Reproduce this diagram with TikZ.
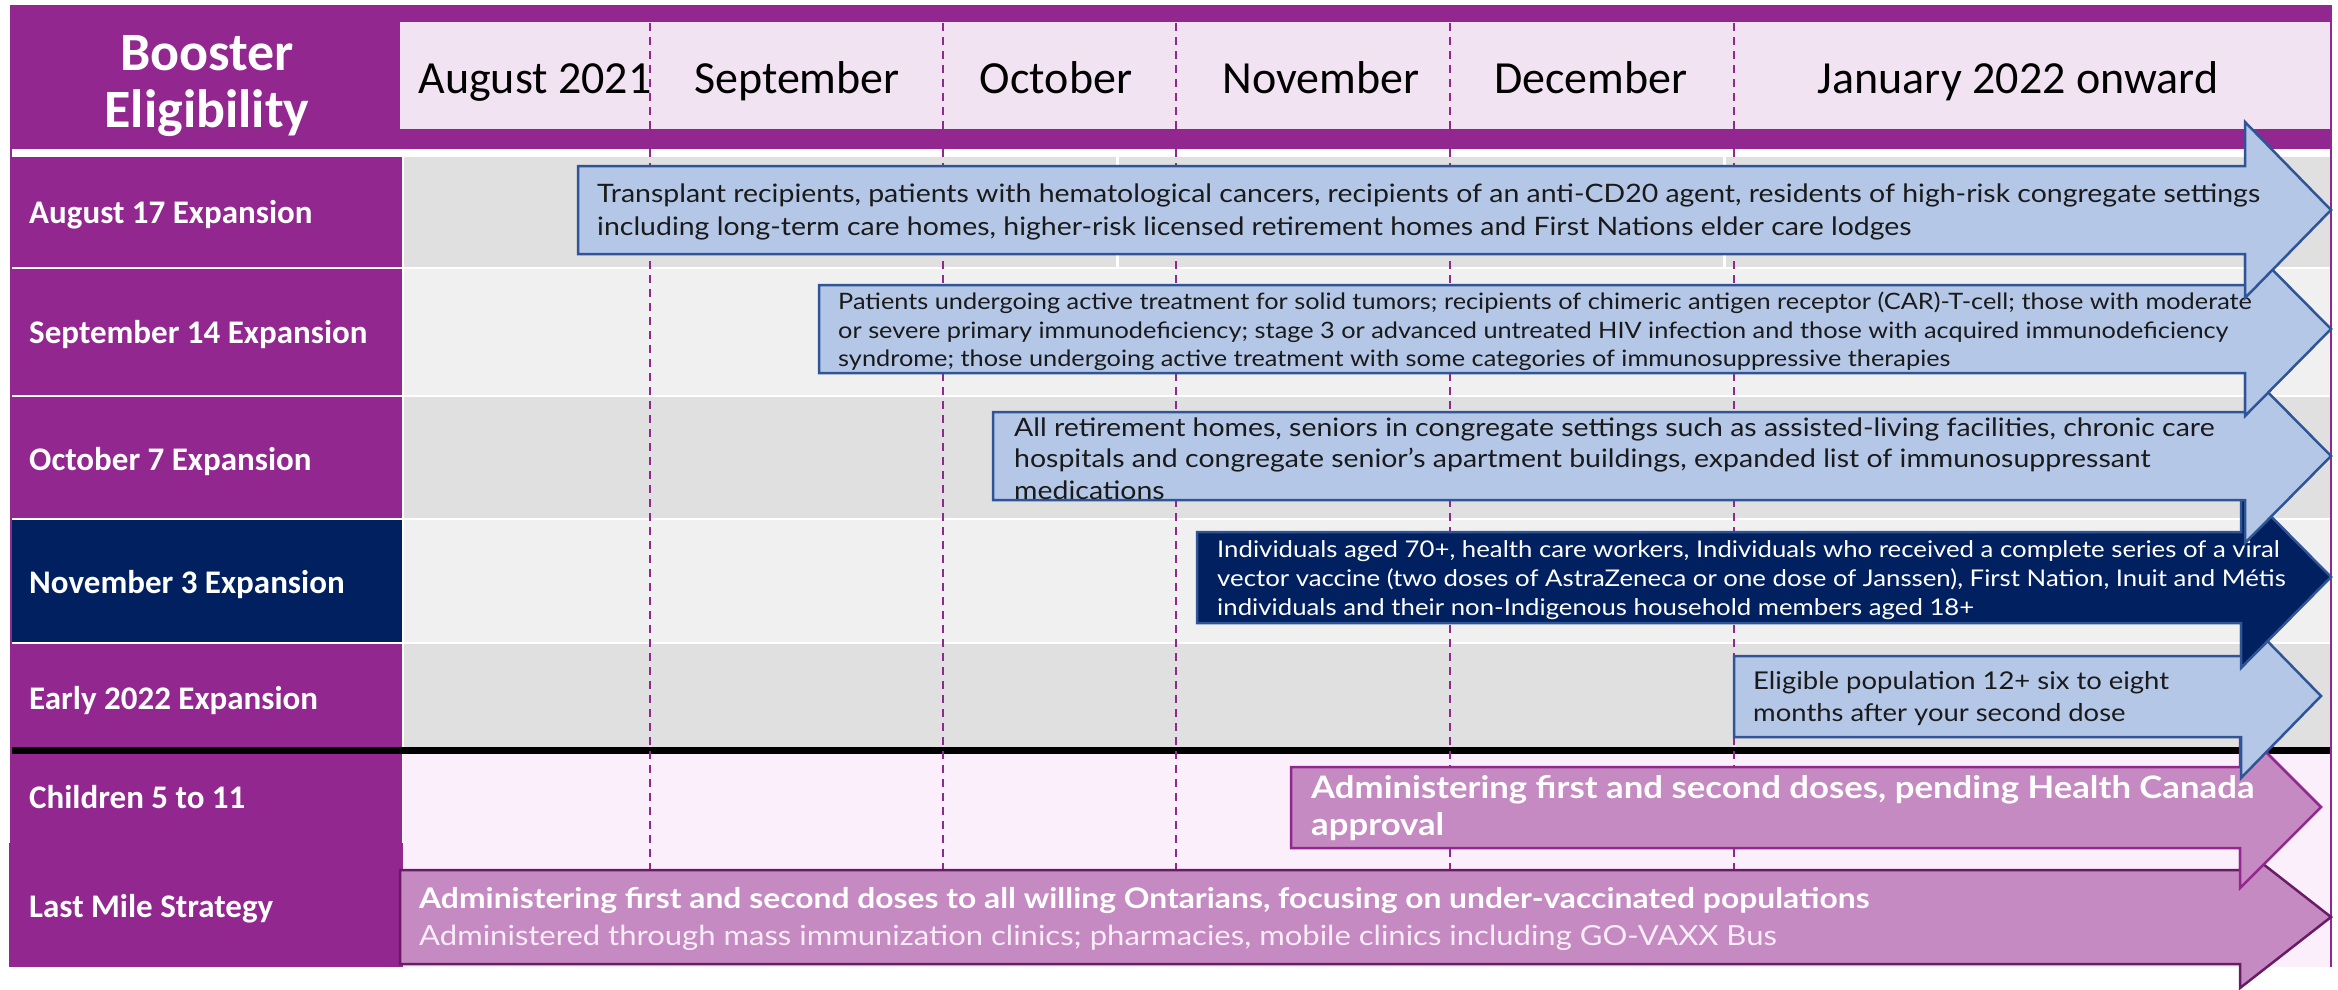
\documentclass[tikz,border=0pt]{standalone}
\usepackage{fontspec}
\setmainfont{Lato}
\newfontfamily\ralw{Lato}[FakeStretch=1.12]
\newfontfamily\calib{Carlito}
\definecolor{purp}{HTML}{92278F}
\definecolor{hdrpink}{HTML}{F2E3F2}
\definecolor{gdark}{HTML}{E0E0E0}
\definecolor{glight}{HTML}{F0F0F0}
\definecolor{navy}{HTML}{002060}
\definecolor{abl}{HTML}{B4C7E7}
\definecolor{abord}{HTML}{2F5597}
\definecolor{apink}{HTML}{C58AC1}
\definecolor{pinkbg}{HTML}{FBEFFB}
\definecolor{dpurp}{HTML}{6A1B66}
\definecolor{atxt}{HTML}{1A1A1A}
\definecolor{lighttxt}{HTML}{F8ECF7}
\newcommand\arr[9]{\path[#1] (#2,#3) -- (#5,#3) -- (#5,#6) -- (#8,#9) -- (#5,#7) -- (#5,#4) -- (#2,#4) -- cycle;}
\tikzset{
  lbl/.style={anchor=base west, inner sep=0pt, text=white, font=\calib\bfseries\fontsize{33}{38}\selectfont},
  month/.style={anchor=base, inner sep=0pt, text=black, font=\calib\fontsize{46}{50}\selectfont},
  sepline/.style={draw=purp, line width=2pt, dash pattern=on 8pt off 6pt},
  barrow/.style={fill=abl, draw=abord, line width=2.5pt, line join=miter},
  narrow/.style={fill=navy, draw=abord, line width=2.5pt, line join=miter},
  parrow/.style={fill=apink, draw=purp, line width=2.5pt, line join=miter},
  pdarrow/.style={fill=apink, draw=dpurp, line width=2.5pt, line join=miter},
  atext/.style={anchor=west, inner sep=0pt, align=left},
}
\begin{document}
\begin{tikzpicture}[x=1pt,y=-1pt]
\useasboundingbox (0,0) rectangle (2338,989);
\fill[white] (0,0) rectangle (2338,989);
% header
\fill[purp] (11,5) rectangle (2331,149);
\fill[hdrpink] (400,22) rectangle (2331,129);
% label column
\fill[purp] (11,157) rectangle (402,267);
\fill[purp] (11,269) rectangle (402,395);
\fill[purp] (11,397) rectangle (402,518);
\fill[navy] (11,520) rectangle (402,642);
\fill[purp] (11,644) rectangle (402,747);
\fill[purp] (11,754) rectangle (402,843);
\fill[purp] (9,843) rectangle (403,967);
% row backgrounds
\fill[gdark] (404,157) rectangle (2331,267);
\fill[glight] (404,269) rectangle (2331,395);
\fill[gdark] (404,397) rectangle (2331,518);
\fill[glight] (404,520) rectangle (2331,642);
\fill[gdark] (404,644) rectangle (2331,747);
\fill[pinkbg] (403,754) rectangle (2331,967);
\fill[white] (1116,157) rectangle (1119,267);
\fill[white] (1723,157) rectangle (1726,267);
\fill[black] (11,747) rectangle (2331,754);
% frame
\draw[purp, line width=1.5pt] (11,5) -- (11,843);
\draw[purp, line width=1.5pt] (2331,5) -- (2331,967);
% month separators
\foreach \xx in {650,943,1176,1450,1734} { \draw[sepline] (\xx,23) -- (\xx,869); }
% header texts
\node[anchor=base, inner sep=0pt, text=white, font=\calib\bfseries\fontsize{54}{57}\selectfont] (hb1) at (207,70) {Booster};
\node[anchor=base, inner sep=0pt, text=white, font=\calib\bfseries\fontsize{54}{57}\selectfont] (hb2) at (207,127) {Eligibility};
\node[month] (m1) at (535,93) {August 2021};
\node[month] (m2) at (797,93) {September};
\node[month] (m3) at (1056,93) {October};
\node[month] (m4) at (1321,93) {November};
\node[month] (m5) at (1591,93) {December};
\node[month] (m6) at (2018,93) {January 2022 onward};
% row labels
\node[lbl] (l1) at (29,223) {August 17 Expansion};
\node[lbl] (l2) at (29,343) {September 14 Expansion};
\node[lbl] (l3) at (29,470) {October 7 Expansion};
\node[lbl] (l4) at (29,593) {November 3 Expansion};
\node[lbl] (l5) at (29,709) {Early 2022 Expansion};
\node[lbl] (l6) at (29,808) {Children 5 to 11};
\node[lbl] (l7) at (29,917) {Last Mile Strategy};
% arrows (drawn bottom-up so earlier rows lie on top)
\arr{pdarrow}{400}{870}{964}{2240}{846}{988}{2331}{917}
\node[atext, text=white, font=\ralw\fontsize{28.4}{37}\selectfont] (t7) at (419,918.5) {\textbf{Administering first and second doses to all willing Ontarians, focusing on under-vaccinated populations}\\\color{lighttxt}\fontsize{27.7}{37}\selectfont Administered through mass immunization clinics; pharmacies, mobile clinics including GO-VAXX Bus};
\arr{parrow}{1291}{767}{848}{2240}{726}{888}{2321}{807}
\node[atext, text=white, font=\ralw\bfseries\fontsize{31}{37}\selectfont] (t6) at (1311,808.5) {Administering first and second doses, pending Health Canada\\approval};
\arr{barrow}{1734}{656}{737}{2241}{614}{778}{2321}{696}
\node[atext, text=atxt, font=\ralw\fontsize{24.5}{32}\selectfont] (t5) at (1753,699) {Eligible population 12+ six to eight\\months after your second dose};
\arr{narrow}{1197}{532}{623}{2241}{486}{668}{2331}{577}
\node[atext, text=white, font=\ralw\fontsize{23}{29}\selectfont] (t4) at (1217,580) {Individuals aged 70+, health care workers, Individuals who received a complete series of a viral\\vector vaccine (two doses of AstraZeneca or one dose of Janssen), First Nation, Inuit and Métis\\individuals and their non-Indigenous household members aged 18+};
\arr{barrow}{993}{412}{500}{2245}{369}{543}{2331}{456}
\node[atext, text=atxt, font=\ralw\fontsize{25.4}{31.5}\selectfont] (t3) at (1014,458.5) {All retirement homes, seniors in congregate settings such as assisted-living facilities, chronic care\\hospitals and congregate senior’s apartment buildings, expanded list of immunosuppressant\\medications};
\arr{barrow}{819}{285}{373}{2245}{242}{416}{2331}{329}
\node[atext, text=atxt, font=\ralw\fontsize{22.6}{28.5}\selectfont] (t2) at (838,331.5) {Patients undergoing active treatment for solid tumors; recipients of chimeric antigen receptor (CAR)-T-cell; those with moderate\\or severe primary immunodeficiency; stage 3 or advanced untreated HIV infection and those with acquired immunodeficiency\\syndrome; those undergoing active treatment with some categories of immunosuppressive therapies};
\arr{barrow}{578}{166}{254}{2245}{122}{298}{2331}{210}
\node[atext, text=atxt, font=\ralw\fontsize{25.4}{33}\selectfont] (t1) at (597,211.5) {Transplant recipients, patients with hematological cancers, recipients of an anti-CD20 agent, residents of high-risk congregate settings\\including long-term care homes, higher-risk licensed retirement homes and First Nations elder care lodges};
\end{tikzpicture}
\end{document}
